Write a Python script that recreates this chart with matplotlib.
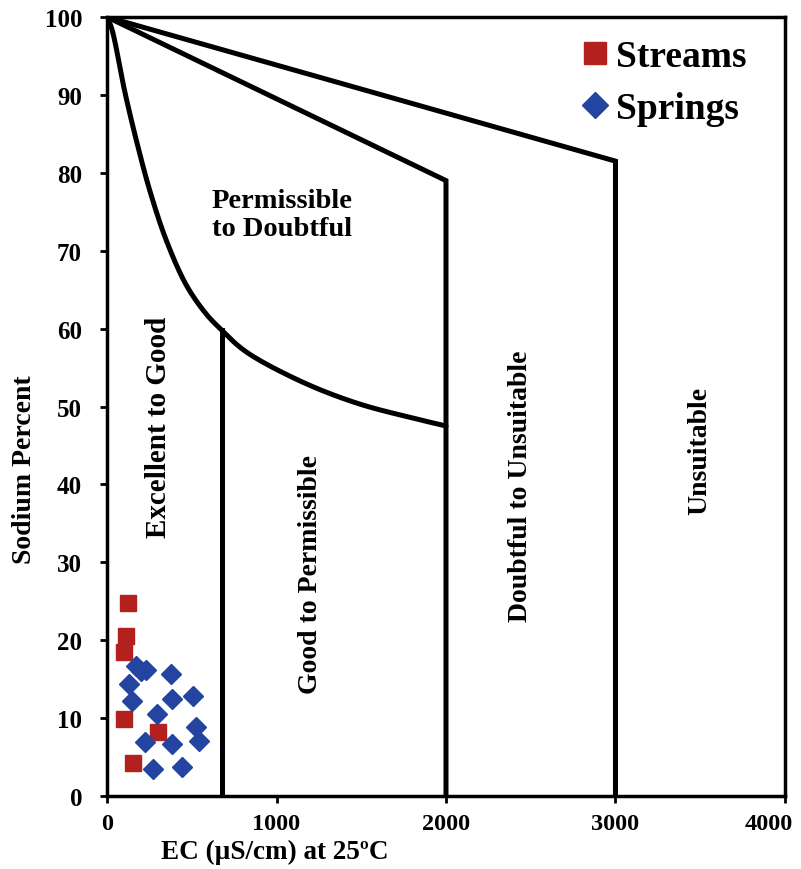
import matplotlib
matplotlib.use("Agg")
import matplotlib.pyplot as plt
import matplotlib.transforms as mtransforms
import numpy as np

# sample points: EC (uS/cm) and sodium percent
streams_ec = [124, 112, 100, 100, 300, 153]
streams_na = [24.8, 20.5, 18.5, 9.9, 8.2, 4.2]

springs_ec = [170, 200, 230, 378, 132, 149, 382, 509, 293, 523, 543, 224, 382, 273, 444]
springs_na = [16.7, 16.0, 16.2, 15.6, 14.4, 12.2, 12.5, 12.9, 10.5, 8.8, 7.0, 6.9, 6.7, 3.5, 3.7]

# class boundaries of the Wilcox diagram
curve_ec = [0, 28, 106, 175, 254, 352, 470, 588, 677, 785, 903, 1198, 1493, 1788, 2000]
curve_na = [100, 98.5, 90.3, 84.0, 77.6, 71.2, 65.5, 61.8, 59.8, 57.6, 55.9, 52.7, 50.3, 48.6, 47.5]
mid_ec = [0, 2000, 2000]
mid_na = [100, 79, 0]
top_ec = [0, 3000, 3000]
top_na = [100, 81.5, 0]
good_ec = [677, 677]
good_na = [0, 59.8]


def smooth(xs, ys, n=20, alpha=0.5):
    # centripetal Catmull-Rom spline through the boundary points
    p = np.column_stack([np.asarray(xs) / 40.0, np.asarray(ys, dtype=float)])
    p = np.vstack([2 * p[0] - p[1], p, 2 * p[-1] - p[-2]])
    out = []
    for i in range(1, len(p) - 2):
        p0, p1, p2, p3 = p[i - 1], p[i], p[i + 1], p[i + 2]
        t0 = 0.0
        t1 = t0 + np.linalg.norm(p1 - p0) ** alpha
        t2 = t1 + np.linalg.norm(p2 - p1) ** alpha
        t3 = t2 + np.linalg.norm(p3 - p2) ** alpha
        t = np.linspace(t1, t2, n, endpoint=False)[:, None]
        a1 = (t1 - t) / (t1 - t0) * p0 + (t - t0) / (t1 - t0) * p1
        a2 = (t2 - t) / (t2 - t1) * p1 + (t - t1) / (t2 - t1) * p2
        a3 = (t3 - t) / (t3 - t2) * p2 + (t - t2) / (t3 - t2) * p3
        b1 = (t2 - t) / (t2 - t0) * a1 + (t - t0) / (t2 - t0) * a2
        b2 = (t3 - t) / (t3 - t1) * a2 + (t - t1) / (t3 - t1) * a3
        out.append((t2 - t) / (t2 - t1) * b1 + (t - t1) / (t2 - t1) * b2)
    out.append(p[-2][None, :])
    out = np.vstack(out)
    return out[:, 0] * 40.0, out[:, 1]


plt.rcParams['font.family'] = ['Liberation Serif', 'DejaVu Serif']
plt.rcParams['font.weight'] = 'bold'

fig = plt.figure(figsize=(8.01, 8.70), dpi=100)
ax = fig.add_axes([0.1336, 0.0839, 0.8464, 0.8954])

lw = 3.6
cx, cy = smooth(curve_ec, curve_na)
ax.plot(cx, cy, color='black', lw=lw, solid_capstyle='round')
ax.plot(mid_ec, mid_na, color='black', lw=lw, solid_joinstyle='miter')
ax.plot(top_ec, top_na, color='black', lw=lw, solid_joinstyle='miter')
ax.plot(good_ec, good_na, color='black', lw=lw)

ax.plot(streams_ec, streams_na, 's', color='#b3211f', ms=12, mec='#b3211f',
        ls='none', label='Streams', zorder=5)
ax.plot(springs_ec, springs_na, 'D', color='#2344a0', ms=10, mec='#2344a0',
        ls='none', label='Springs', zorder=5)

tf = dict(fontsize=20, fontweight='bold', ha='center', va='center')
ax.text(619, 74.6, 'Permissible\nto Doubtful', fontsize=20.5,
        fontweight='bold', ha='left', va='center', linespacing=1.15)
ax.text(301, 47.4, 'Excellent to Good', rotation=90, fontsize=21,
        fontweight='bold', ha='center', va='center')
ax.text(1198, 28.5, 'Good to Permissible', rotation=90, **tf)
ax.text(2437, 39.9, 'Doubtful to Unsuitable', rotation=90, **tf)
ax.text(3499, 44.4, 'Unsuitable', rotation=90, **tf)

ax.set_xlim(0, 4000)
ax.set_ylim(0, 100)
ax.set_xticks([0, 1000, 2000, 3000, 4000])
ax.set_yticks(range(0, 101, 10))
ax.tick_params(direction='out', length=5, width=2, labelsize=18)
ax.tick_params(axis='x', labelsize=17.5, pad=7)
ax.tick_params(axis='y', pad=13)
for lab in ax.get_xticklabels() + ax.get_yticklabels():
    lab.set_fontweight('bold')
# keep the last x tick label inside the figure
last = ax.get_xticklabels()[-1]
last.set_horizontalalignment('right')
last.set_transform(last.get_transform() + mtransforms.ScaledTranslation(0.08, 0, fig.dpi_scale_trans))
for sp in ax.spines.values():
    sp.set_linewidth(2.5)

ax.set_xlabel('EC (\u00b5S/cm) at 25\u00baC', fontsize=19.5, fontweight='bold', va='center')
ax.xaxis.set_label_coords(0.248, -0.071)
ax.set_ylabel('Sodium Percent', fontsize=20, fontweight='bold')
ax.yaxis.set_label_coords(-0.104, 0.42)

ax.legend(loc='upper right', bbox_to_anchor=(0.993, 1.015), frameon=False,
          prop=dict(family='Liberation Serif', weight='bold', size=27),
          handletextpad=0.1, labelspacing=0.45, handlelength=0.9, markerscale=1.3)

fig.savefig('out.png', dpi=100)
